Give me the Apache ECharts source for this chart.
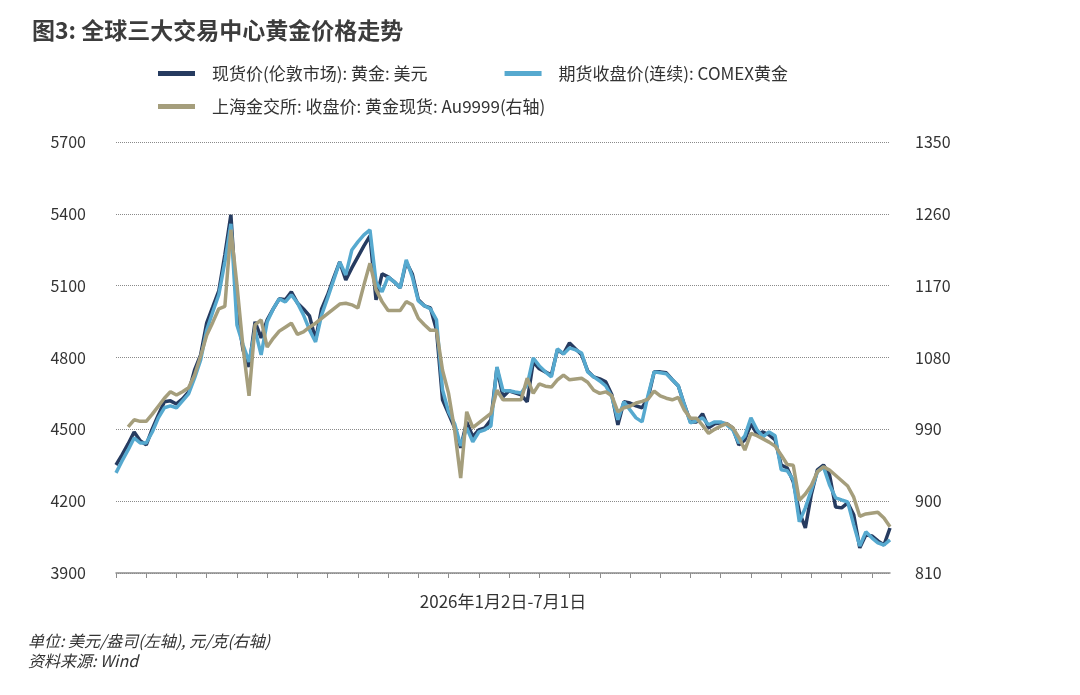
<!DOCTYPE html>
<html>
<head>
<meta charset="utf-8">
<title>图3: 全球三大交易中心黄金价格走势</title>
<script src="https://cdn.jsdelivr.net/npm/echarts@6/dist/echarts.min.js"></script>
<style>
    html, body { margin: 0; padding: 0; background: #fff; }
    #main { width: 1080px; height: 695px; }
</style>
</head>
<body>
<div id="main"></div>
<script>
// 数据: 2026年1月2日-7月1日 (工作日)
var seriesNames = ['现货价(伦敦市场): 黄金: 美元', '期货收盘价(连续): COMEX黄金', '上海金交所: 收盘价: 黄金现货: Au9999(右轴)'];

// 现货价(伦敦市场), 美元/盎司
var spotLondon = [
    4351, 4393, 4439, 4489, 4452, 4435, 4502, 4560, 4615, 4619,
    4606, 4627, 4656, 4748, 4811, 4945, 5011, 5078, 5229, 5396,
    4999, 4832, 4761, 4949, 4882, 4957, 5003, 5045, 5041, 5074,
    5028, 5003, 4974, 4874, 5003, 5062, 5133, 5199, 5124, 5174,
    5220, 5266, 5308, 5041, 5149, 5137, 5116, 5091, 5199, 5149,
    5041, 5016, 5007, 4915, 4623, 4565, 4506, 4423, 4531, 4469,
    4498, 4506, 4540, 4757, 4636, 4661, 4652, 4644, 4615, 4782,
    4753, 4740, 4727, 4832, 4815, 4861, 4836, 4811, 4744, 4719,
    4711, 4698, 4644, 4519, 4615, 4610, 4598, 4590, 4631, 4740,
    4740, 4736, 4707, 4681, 4602, 4531, 4531, 4565, 4506, 4523,
    4527, 4523, 4506, 4435, 4456, 4523, 4481, 4489, 4477, 4456,
    4351, 4339, 4281, 4155, 4088, 4230, 4331, 4351, 4310, 4176,
    4172, 4193, 4143, 4005, 4059, 4055, 4034, 4017, 4088
];

// 期货收盘价(连续): COMEX黄金, 美元/盎司
var comexFutures = [
    4318, 4368, 4414, 4464, 4443, 4443, 4489, 4548, 4590, 4598,
    4590, 4619, 4648, 4715, 4790, 4915, 4990, 5062, 5199, 5358,
    4936, 4853, 4782, 4915, 4811, 4949, 5003, 5045, 5032, 5062,
    5028, 4978, 4915, 4865, 4978, 5049, 5124, 5199, 5145, 5249,
    5283, 5312, 5333, 5116, 5074, 5137, 5116, 5091, 5208, 5137,
    5036, 5016, 5003, 4957, 4665, 4573, 4523, 4431, 4506, 4448,
    4489, 4498, 4514, 4761, 4661, 4661, 4656, 4652, 4686, 4798,
    4765, 4740, 4719, 4836, 4815, 4840, 4832, 4819, 4740, 4719,
    4702, 4681, 4636, 4540, 4615, 4581, 4548, 4531, 4644, 4740,
    4736, 4732, 4707, 4681, 4602, 4527, 4535, 4548, 4519, 4531,
    4531, 4519, 4498, 4443, 4473, 4548, 4498, 4469, 4489, 4473,
    4331, 4327, 4289, 4114, 4172, 4247, 4322, 4343, 4268, 4214,
    4205, 4197, 4101, 4013, 4072, 4047, 4026, 4017, 4038
];

// 上海金交所 Au9999, 元/克 (休市日为空)
var sgeAu9999 = [
    null, null, 993, 1002, 1000, 1000, 1009, 1019, 1029, 1037,
    1033, 1037, 1042, 1058, 1082, 1108, 1124, 1141, 1144, 1240,
    1171, 1093, 1032, 1121, 1127, 1093, 1104, 1113, 1118, 1123,
    1109, 1112, 1118, 1123, null, null, null, 1147, 1148, 1146,
    1142, 1171, 1198, 1165, 1150, 1139, 1139, 1139, 1150, 1146,
    1129, 1121, 1114, 1114, 1064, 1035, 989, 929, 1012, 992,
    998, 1004, 1010, 1039, 1027, 1027, 1027, 1027, 1054, 1035,
    1047, 1044, 1043, 1052, 1058, 1052, 1053, 1054, 1049, 1039,
    1035, 1037, 1032, 1012, 1017, 1019, 1023, 1025, 1028, 1038,
    1032, 1029, 1027, 1030, 1014, 1004, 1004, 995, 985, 990,
    994, 997, 992, 980, 964, 985, 982, 978, 974, 969,
    958, 946, 945, 901, 909, 920, 937, 943, 939, null,
    null, 919, 905, 881, 884, null, 886, 879, 868
];

// 坐标轴刻度
var leftTicks = { min: 3900, max: 5700, interval: 300 };
var rightTicks = { min: 810, max: 1350, interval: 90 };

// 日期(工作日)
var dates = [];
(function() {
    var d = new Date(2026, 0, 2);
    var end = new Date(2026, 6, 1);
    while (d <= end) {
        var w = d.getDay();
        if (w !== 0 && w !== 6) {
            dates.push((d.getMonth() + 1) + '/' + d.getDate());
        }
        d.setDate(d.getDate() + 1);
    }
})();

var colors = ['#263b60', '#56a9cf', '#a59e7c'];

var goldChart = function() {
    var box = document.getElementById('main');
    var myChart = echarts.init(box);
    var font = '"Noto Sans CJK SC", "Noto Sans", sans-serif';

    var option = {
        animation: false,
        color: colors,
        textStyle: { fontFamily: font },
        title: {
            text: '图3: 全球三大交易中心黄金价格走势',
            left: 27,
            top: 14,
            textStyle: {
                fontSize: 23,
                fontWeight: 'bold',
                color: '#3c3c3c',
                fontFamily: font
            }
        },
        legend: [{
            data: [seriesNames[0], seriesNames[1]],
            left: 153,
            top: 60,
            icon: 'rect',
            itemWidth: 37,
            itemHeight: 5,
            itemGap: 77,
            textStyle: { fontSize: 17, color: '#333', padding: [0, 0, 0, 12] }
        }, {
            data: [seriesNames[2]],
            left: 153,
            top: 93,
            icon: 'rect',
            itemWidth: 37,
            itemHeight: 5,
            textStyle: { fontSize: 17, color: '#333', padding: [0, 0, 0, 12] }
        }],
        grid: {
            left: 116,
            right: 190,
            top: 142,
            bottom: 122
        },
        xAxis: [{
            type: 'category',
            data: dates,
            boundaryGap: false,
            name: '2026年1月2日-7月1日',
            nameLocation: 'middle',
            nameGap: 20,
            nameTextStyle: { fontSize: 17, color: '#333', verticalAlign: 'top' },
            axisLine: { lineStyle: { color: '#8c8c8c', width: 1.5 } },
            axisTick: { interval: 4, length: 5, lineStyle: { color: '#8c8c8c' } },
            axisLabel: { show: false },
            splitLine: { show: false }
        }],
        yAxis: [{
            type: 'value',
            min: leftTicks.min,
            max: leftTicks.max,
            interval: leftTicks.interval,
            axisLine: { show: false },
            axisTick: { show: false },
            axisLabel: {
                fontSize: 16,
                color: '#333',
                margin: 30,
                formatter: function(v) { return String(v); }
            },
            splitLine: { lineStyle: { type: 'dotted', color: '#8a8a8a' } }
        }, {
            type: 'value',
            min: rightTicks.min,
            max: rightTicks.max,
            interval: rightTicks.interval,
            axisLine: { show: false },
            axisTick: { show: false },
            axisLabel: {
                fontSize: 16,
                color: '#333',
                margin: 25,
                formatter: function(v) { return String(v); }
            },
            splitLine: { show: false }
        }],
        series: [{
            name: seriesNames[0],
            type: 'line',
            data: spotLondon,
            showSymbol: false,
            lineStyle: { width: 3.5 }
        }, {
            name: seriesNames[1],
            type: 'line',
            data: comexFutures,
            showSymbol: false,
            lineStyle: { width: 3.5 }
        }, {
            name: seriesNames[2],
            type: 'line',
            yAxisIndex: 1,
            data: sgeAu9999,
            showSymbol: false,
            connectNulls: true,
            lineStyle: { width: 3.5 }
        }],
        graphic: [{
            type: 'text',
            left: 28,
            top: 633,
            style: {
                text: '单位: 美元/盎司(左轴), 元/克(右轴)',
                fontSize: 16,
                fontStyle: 'italic',
                fill: '#333',
                fontFamily: font
            }
        }, {
            type: 'text',
            left: 28,
            top: 653,
            style: {
                text: '资料来源: Wind',
                fontSize: 16,
                fontStyle: 'italic',
                fill: '#333',
                fontFamily: font
            }
        }]
    };

    myChart.setOption(option);
};

goldChart();
</script>
</body>
</html>
